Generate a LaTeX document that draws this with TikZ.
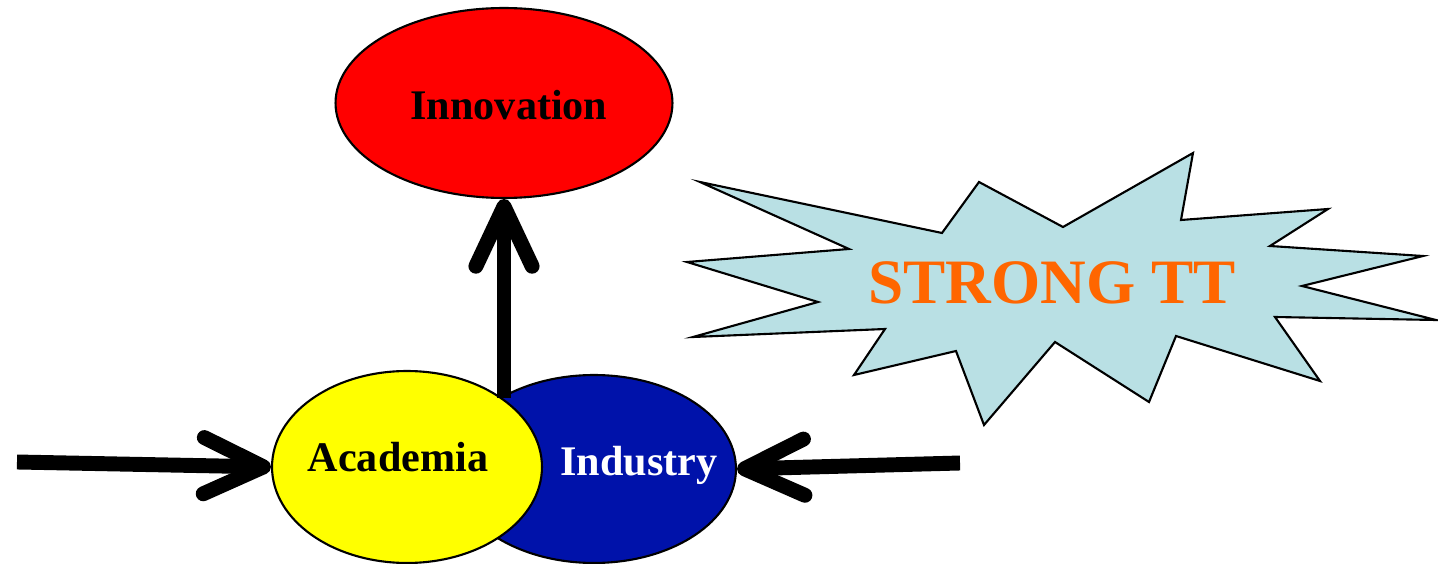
\documentclass[tikz,border=0pt]{standalone}
\usepackage{fontspec}
\setmainfont{Liberation Serif}
\usetikzlibrary{shapes.geometric,arrows.meta}

\definecolor{innored}{RGB}{255,0,0}
\definecolor{acayellow}{RGB}{255,255,0}
\definecolor{indblue}{RGB}{0,18,170}
\definecolor{starblue}{RGB}{185,224,228}
\definecolor{ttorange}{RGB}{255,102,0}

\tikzset{
    blob/.style={ellipse, draw, line width=1.2pt, inner sep=0pt},
    lbl/.style={font=\fontsize{24}{28}\selectfont\bfseries},
    bigarrow/.style={line width=8.5pt, -{Straight Barb[length=34pt,width=32pt,round]}}
}

\begin{document}
\begin{tikzpicture}[x=0.02cm, y=-0.02cm]
    \useasboundingbox (0,0) rectangle (1438,564);

    % Industry (behind)
    \node[blob, fill=indblue, minimum width=5.68cm, minimum height=3.76cm] (industry) at (594,469) {};
    % Academia
    \node[blob, fill=acayellow, minimum width=5.4cm, minimum height=3.84cm] (academia) at (407,467) {};
    \node[lbl] (academiatext) at (398,457) {Academia};
    \node[lbl, text=white] (industrytext) at (639,465) {Industry};

    % Innovation
    \node[blob, fill=innored, minimum width=6.74cm, minimum height=3.8cm] (innovation) at (504,103) {};
    \node[lbl] (innovationtext) at (509,105) {Innovation};

    % Arrows
    \coordinate (west) at (17,462);
    \coordinate (east) at (960,463);
    \coordinate (base) at (504,398);
    \draw[bigarrow] (west) -- (academia.west);
    \draw[bigarrow] (east) -- (industry.east);
    \draw[bigarrow] (base) -- (innovation.south);

    % Star
    \draw[line width=1.2pt, fill=starblue] (700,182) -- (942,233) -- (979,182) -- (1063,227)
        -- (1193,153) -- (1181,220) -- (1328,209) -- (1270,246) -- (1423,256) -- (1302,286)
        -- (1436,320) -- (1275,317) -- (1320,381) -- (1176,336) -- (1149,402) -- (1055,342)
        -- (984,425) -- (956,351) -- (854,375) -- (885,329) -- (693,337) -- (818,302)
        -- (687,262) -- (849,249) -- cycle;
    \node[font=\fontsize{36}{40}\selectfont\bfseries, text=ttorange] (strongtt) at (1052,283) {STRONG TT};
\end{tikzpicture}
\end{document}
